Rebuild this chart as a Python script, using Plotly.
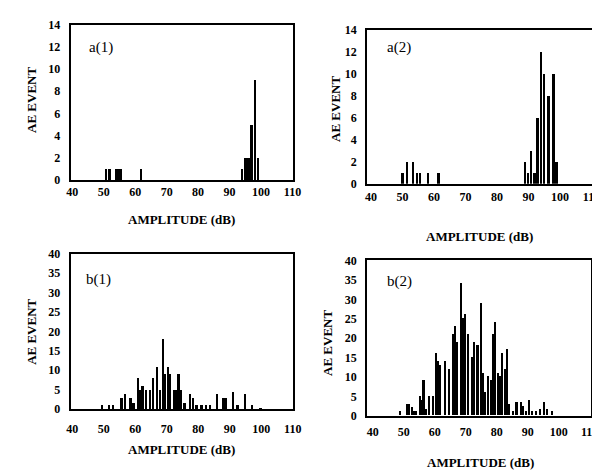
import plotly.graph_objects as go

# ---- data (amplitude in dB, AE event counts) ----
a1_amp = [50.7, 51.8, 54.1, 54.8, 55.5, 61.9, 94, 95, 96, 97, 98, 99]
a1_cnt = [1, 1, 1, 1, 1, 1, 1, 2, 2, 5, 9, 2]

a2_amp = [50.2, 51.6, 53.4, 54.7, 55.6, 58.3, 61.6, 89, 90, 91, 92, 93, 94, 95, 96.5, 98, 99]
a2_cnt = [1, 2, 2, 1, 1, 1, 1, 2, 1, 3, 1, 6, 12, 10, 8, 10, 2]

b1_amp = [49.3, 51.6, 52.9, 55.6, 56.6, 58.5, 59.4, 60.8, 61.6, 62.3, 63.3, 64.6, 65.6,
          66.9, 67.8, 68.7, 69.5, 70.4, 71.1, 72.2, 72.9, 73.7, 74.6, 75.6, 77.4, 78.2,
          79.4, 81.0, 82.5, 83.6, 86.0, 87.8, 88.6, 90.9, 92.4, 94.7, 97.1, 99.7]
b1_cnt = [1, 1, 1, 3, 4, 3, 1.5, 8, 5, 6, 5, 5, 8,
          11, 5, 18, 9, 11, 9, 5, 5, 9, 5, 1.5, 4, 3,
          1, 1, 1, 1, 4, 3, 3, 4.5, 1, 4, 1, 0.3]

b2_amp = [49.0, 51.3, 51.9, 52.7, 53.4, 54.2, 55.5, 56.0, 56.5, 57.2, 58.2, 59.5, 60.5,
          61.3, 61.9, 63.5, 64.7, 66.0, 66.6, 67.3, 68.7, 69.2, 69.8, 71.0, 72.3, 72.9,
          73.7, 74.2, 75.1, 75.8, 76.4, 77.2, 78.3, 79.0, 79.5, 80.6, 81.3, 81.9, 82.9,
          83.4, 84.2, 85.3, 86.5, 87.9, 88.7, 89.5, 90.5, 91.6, 92.8, 94.0, 95.5, 96.3, 98.1]
b2_cnt = [1, 3, 3, 2, 1, 1, 5, 4, 9, 1.5, 5, 5, 16,
          14, 13, 14, 12, 21, 23, 19, 34, 25, 26, 21, 15, 19,
          18, 18, 29, 11, 6, 10, 9, 21, 24, 11, 10, 16, 12,
          17, 3, 1, 3.5, 3.5, 2.5, 1, 4, 1, 1, 1.5, 3.5, 1.5, 1]

panel_labels = ["a(1)", "a(2)", "b(1)", "b(2)"]
x_title = "AMPLITUDE (dB)"
y_title = "AE EVENT"
x_ticks = [40, 50, 60, 70, 80, 90, 100, 110]

W, H = 600, 472
SERIF = "Liberation Serif"

def px(x):
    return x / W

def py(y):
    return 1 - y / H

fig = go.Figure()
series = [(a1_amp, a1_cnt, "x", "y", 0.6), (a2_amp, a2_cnt, "x2", "y2", 0.6),
          (b1_amp, b1_cnt, "x3", "y3", 0.55), (b2_amp, b2_cnt, "x4", "y4", 0.55)]
for xs, ys, xa, ya, w in series:
    fig.add_trace(go.Bar(x=xs, y=ys, xaxis=xa, yaxis=ya, width=w,
                         marker=dict(color="black", line=dict(width=0)),
                         showlegend=False))

# panel geometry in pixels: (left, right, top, bottom), x-range, y-range, y dtick, x label standoff
panels = [
    ((60, 287, 10, 170), [39.5, 110.1], [0, 14], 2, 0),
    ((363, 593, 15, 174), [38.8, 110.2], [0, 14], 2, 1),
    ((60, 287, 246, 406), [39.5, 110.0], [0, 40], 5, 8),
    ((363, 592, 253, 413), [38.2, 110.5], [0, 40], 5, 4),
]

tickfont = dict(family=SERIF, size=12, color="black", weight="bold")
layout = dict(width=W, height=H, margin=dict(l=0, r=0, t=0, b=0),
              paper_bgcolor="white", plot_bgcolor="white", bargap=0)
for i, ((l, r, t, b), xr, yr, dt, so) in enumerate(panels):
    sfx = "" if i == 0 else str(i + 1)
    layout["xaxis" + sfx] = dict(
        domain=[px(l), px(r)], range=xr, anchor="y" + sfx,
        tickvals=x_ticks, ticks="", showgrid=False, zeroline=False,
        showline=True, linecolor="black", linewidth=2, mirror=True,
        tickfont=tickfont, ticklabelstandoff=so)
    layout["yaxis" + sfx] = dict(
        domain=[py(b), py(t)], range=yr, anchor="x" + sfx, dtick=dt,
        ticks="", showgrid=False, zeroline=False,
        showline=True, linecolor="black", linewidth=2, mirror=True,
        tickfont=tickfont, ticklabelstandoff=6)
fig.update_layout(**layout)

ann = []
# panel labels
for lab, (x, y) in zip(panel_labels, [(91, 33), (396, 33), (88, 273), (396, 275)]):
    ann.append(dict(text=lab, x=px(x), y=py(y), xref="paper", yref="paper",
                    showarrow=False, xanchor="center", yanchor="middle",
                    font=dict(family=SERIF, size=15, color="black")))
# x axis titles
for (x, y) in [(173, 211), (478, 228), (173, 448), (479, 461)]:
    ann.append(dict(text=x_title, x=px(x), y=py(y), xref="paper", yref="paper",
                    showarrow=False, xanchor="center", yanchor="middle",
                    font=dict(family=SERIF, size=13, color="black", weight="bold")))
# y axis titles
for (x, y) in [(20, 88), (330, 97), (20, 327), (323, 338)]:
    ann.append(dict(text=y_title, x=px(x), y=py(y), xref="paper", yref="paper",
                    showarrow=False, xanchor="center", yanchor="middle", textangle=-90,
                    font=dict(family=SERIF, size=13, color="black", weight="bold")))
fig.update_layout(annotations=ann)

fig.write_html("out.html")
